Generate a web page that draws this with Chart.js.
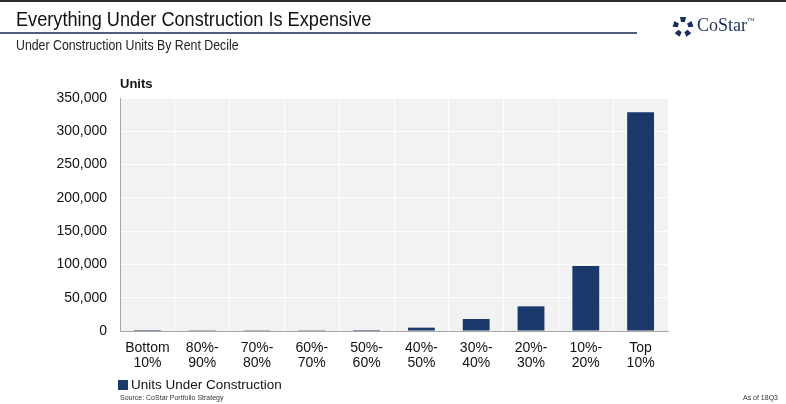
<!DOCTYPE html>
<html>
<head>
<meta charset="utf-8">
<script src="https://cdn.jsdelivr.net/npm/chart.js@4"></script>
<style>
  body { margin: 0; background: #fff; }
  #wrap { position: relative; width: 786px; height: 404px; overflow: hidden; font-family: "Liberation Sans", Arial, sans-serif; }
  #topbar { position: absolute; left: 0; top: 0; width: 786px; height: 2px; background: #2b2b2b; }
  #title { position: absolute; left: 16px; top: 7px; font-size: 21px; color: #111; transform: scaleX(0.865); transform-origin: left top; white-space: nowrap; }
  #rule { position: absolute; left: 0; top: 32px; width: 637px; height: 2px; background: #505d80; }
  #subtitle { position: absolute; left: 16px; top: 37px; font-size: 14px; color: #222; transform: scaleX(0.88); transform-origin: left top; white-space: nowrap; }
  #logo { position: absolute; left: 672px; top: 16px; }
  #logotext { position: absolute; left: 697px; top: 15px; font-family: "Liberation Serif", serif; font-size: 18px; color: #1b2f5c; }
  #logotext sup { font-size: 5px; vertical-align: 10px; }
  #units { position: absolute; left: 120px; top: 76px; font-weight: bold; font-size: 13px; color: #111; }
  #legend { position: absolute; left: 118px; top: 377px; font-size: 13.5px; color: #111; white-space: nowrap; }
  #legend span.box { display: inline-block; width: 10px; height: 10px; background: #1b386b; margin-right: 3px; vertical-align: -1px; }
  #source { position: absolute; left: 120px; top: 394px; font-size: 7px; color: #333; }
  #asof { position: absolute; right: 8px; top: 394px; font-size: 7px; color: #333; }
  canvas { position: absolute; left: 0; top: 0; }
</style>
</head>
<body>
<div id="wrap">
  <canvas id="chart" width="786" height="404"></canvas>
  <div id="topbar"></div>
  <div id="title">Everything Under Construction Is Expensive</div>
  <div id="rule"></div>
  <div id="subtitle">Under Construction Units By Rent Decile</div>
  <svg id="logo" width="22" height="22" viewBox="0 0 22 22">
    <g fill="#1b2f5c" transform="translate(11,11)">
      <path d="M-3,-10 L3,-10 L2,-5 L-2,-5 Z" transform="rotate(0)"/>
      <path d="M-3,-10 L3,-10 L2,-5 L-2,-5 Z" transform="rotate(72)"/>
      <path d="M-3,-10 L3,-10 L2,-5 L-2,-5 Z" transform="rotate(144)"/>
      <path d="M-3,-10 L3,-10 L2,-5 L-2,-5 Z" transform="rotate(216)"/>
      <path d="M-3,-10 L3,-10 L2,-5 L-2,-5 Z" transform="rotate(288)"/>
    </g>
  </svg>
  <div id="logotext">CoStar<sup>TM</sup></div>
  <div id="units">Units</div>
  <div id="legend"><span class="box"></span>Units Under Construction</div>
  <div id="source">Source: CoStar Portfolio Strategy</div>
  <div id="asof">As of 18Q3</div>
</div>
<script>
var deciles = [["Bottom", "10%"], ["80%-", "90%"], ["70%-", "80%"], ["60%-", "70%"], ["50%-", "60%"],
               ["40%-", "50%"], ["30%-", "40%"], ["20%-", "30%"], ["10%-", "20%"], ["Top", "10%"]];
var unitsUnderConstruction = [1500, 300, 1200, 1200, 1500, 5000, 18000, 37000, 97500, 328500];
var yTicksMax = 350000;
var yTicksStep = 50000;

var plotBg = {
    id: "plotBg",
    beforeDraw: function (chart) {
        var a = chart.chartArea;
        var ctx = chart.ctx;
        ctx.save();
        ctx.fillStyle = "#f2f2f2";
        ctx.fillRect(a.left, a.top, a.right - a.left, a.bottom - a.top);
        ctx.restore();
    }
};

new Chart(document.getElementById("chart"), {
    type: "bar",
    data: {
        labels: deciles,
        datasets: [{
            label: "Units Under Construction",
            data: unitsUnderConstruction,
            backgroundColor: "#1b386b",
            barPercentage: 0.49,
            categoryPercentage: 1
        }]
    },
    options: {
        responsive: false,
        animation: false,
        layout: { padding: { left: 0, right: 118, top: 98, bottom: 0 } },
        plugins: { legend: { display: false }, tooltip: { enabled: false } },
        scales: {
            x: {
                afterFit: function (s) { s.height = 73; },
                grid: { color: "#ffffff", lineWidth: 1, drawTicks: false },
                border: { color: "#a6a6a6", width: 1 },
                ticks: { color: "#111", font: { family: "Liberation Sans", size: 14, lineHeight: 1.1 }, padding: 9, maxRotation: 0, autoSkip: false }
            },
            y: {
                min: 0,
                max: yTicksMax,
                afterFit: function (s) { s.width = 120; },
                grid: { color: "#ffffff", lineWidth: 1, drawTicks: false },
                border: { color: "#a6a6a6", width: 1 },
                ticks: {
                    stepSize: yTicksStep,
                    color: "#111",
                    font: { family: "Liberation Sans", size: 14 },
                    padding: 13,
                    callback: function (v) { return v.toLocaleString("en-US"); }
                }
            }
        }
    },
    plugins: [plotBg]
});
</script>
</body>
</html>
